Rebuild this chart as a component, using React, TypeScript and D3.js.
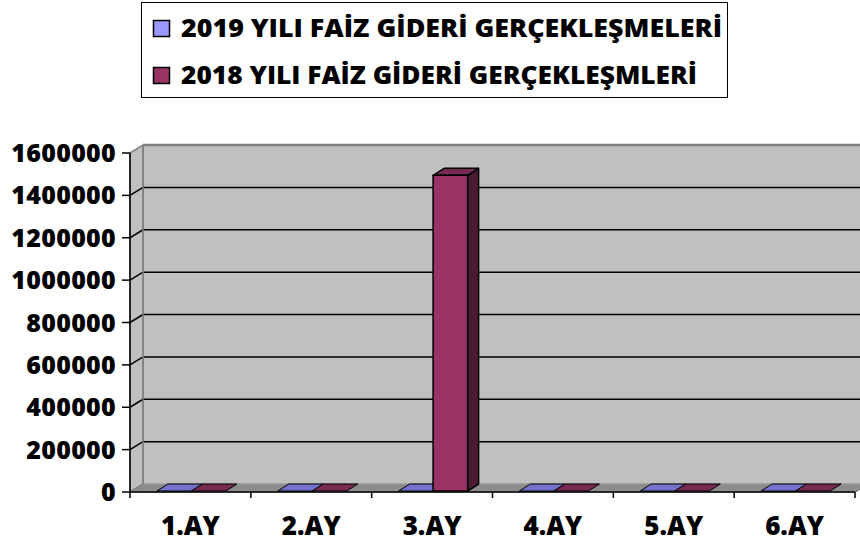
import React from "react";
import * as d3 from "d3";

const categories = ["1.AY", "2.AY", "3.AY", "4.AY", "5.AY", "6.AY"];
const seriesNames = ["2019 YILI FAİZ GİDERİ GERÇEKLEŞMELERİ", "2018 YILI FAİZ GİDERİ GERÇEKLEŞMLERİ"];
const values2019 = [0, 0, 0, 0, 0, 0];
const values2018 = [0, 0, 1490000, 0, 0, 0];
const yTicks = [0, 200000, 400000, 600000, 800000, 1000000, 1200000, 1400000, 1600000];

const seriesValues = [values2019, values2018];
const frontColors = ["#9999ff", "#993366"];
const sideColors = ["#4d4d80", "#4d1a33"];
const topColors = ["#7373cc", "#782a54"];

const W = 860, H = 544;
const X0 = 130, X1 = 855, Y0 = 492, Y1 = 153;
const DX = 13, DY = -8; // wall depth
const BF = { dx: 1, dy: -1 }; // bar front offset
const BB = { dx: 12, dy: -8 }; // bar back offset
const FONT = "'Open Sans', sans-serif";
const WEIGHT = 800;

export default function App() {
  const x = d3.scaleBand<string>().domain(categories).range([X0, X1]).padding(0);
  const xs = d3.scaleBand<string>().domain(seriesNames).range([0, x.step()]).paddingInner(0).paddingOuter(0.75);
  const y = d3.scaleLinear().domain([0, 1600000]).range([Y0, Y1]);
  const bw = xs.bandwidth();

  const pts = (a: number[][]) => a.map((p) => p.join(",")).join(" ");

  const bars: React.ReactNode[] = [];
  categories.forEach((c, ci) => {
    seriesNames.forEach((s, si) => {
      const v = seriesValues[si][ci];
      const xl = (x(c) as number) + (xs(s) as number) + BF.dx;
      const xr = xl + bw;
      const yb = y(0) + BF.dy;
      const yt = y(v) + BF.dy;
      const ddx = BB.dx - BF.dx, ddy = BB.dy - BF.dy;
      const key = `${ci}-${si}`;
      if (yb - yt > 0.5) {
        bars.push(
          <g key={key} stroke="#000" strokeWidth={1.5} strokeLinejoin="round">
            <polygon points={pts([[xr, yt], [xr + ddx, yt + ddy], [xr + ddx, yb + ddy], [xr, yb]])} fill={sideColors[si]} />
            <polygon points={pts([[xl, yt], [xl + ddx, yt + ddy], [xr + ddx, yt + ddy], [xr, yt]])} fill={topColors[si]} />
            <rect x={xl} y={yt} width={bw} height={yb - yt} fill={frontColors[si]} />
          </g>
        );
      } else {
        bars.push(
          <polygon key={key} points={pts([[xl, yt], [xl + ddx, yt + ddy], [xr + ddx, yt + ddy], [xr, yt]])}
            fill={topColors[si]} stroke="#000" strokeWidth={1} strokeLinejoin="round" />
        );
      }
    });
  });

  return (
    <svg width={W} height={H} style={{ position: "absolute", left: 0, top: 0 }}>
      <rect x={0} y={0} width={W} height={H} fill="#fff" />
      {/* legend */}
      <rect x={141.5} y={2.5} width={586} height={95} fill="#fff" stroke="#000" strokeWidth={1} />
      {seriesNames.map((s, i) => (
        <g key={s}>
          <rect x={153.5} y={20.5 + i * 47} width={16} height={16} fill={frontColors[i]} stroke="#000" strokeWidth={1.5} />
          <text x={181} y={37 + i * 47} fontFamily={FONT} fontWeight={WEIGHT} fontSize={24} fill="#000"
            textLength={i === 0 ? 541 : 516} lengthAdjust="spacingAndGlyphs">{s}</text>
        </g>
      ))}
      {/* walls */}
      <polygon points={pts([[X0 + DX, y(1600000) + DY], [W + 20, y(1600000) + DY], [W + 20, y(0) + DY], [X0 + DX, y(0) + DY]])} fill="#c0c0c0" />
      <polygon points={pts([[X0, y(1600000)], [X0 + DX, y(1600000) + DY], [X0 + DX, y(0) + DY], [X0, y(0)]])} fill="#c0c0c0" stroke="#808080" strokeWidth={1.5} />
      <line x1={X0 + DX} x2={W} y1={y(1600000) + DY} y2={y(1600000) + DY} stroke="#808080" strokeWidth={2.5} />
      {/* gridlines */}
      {yTicks.slice(1, -1).map((t) => (
        <g key={t} stroke="#000" strokeWidth={1.5}>
          <line x1={X0} y1={y(t)} x2={X0 + DX} y2={y(t) + DY} />
          <line x1={X0 + DX} y1={y(t) + DY} x2={W} y2={y(t) + DY} />
        </g>
      ))}
      {/* floor */}
      <polygon points={pts([[X0, y(0)], [X0 + DX, y(0) + DY], [X1 + DX, y(0) + DY], [X1, y(0)]])} fill="#8c8c8c" stroke="#808080" strokeWidth={1} />
      <line x1={X0 + DX} x2={W} y1={y(0) + DY} y2={y(0) + DY} stroke="#a0a0a0" strokeWidth={1} />
      <line x1={X0 + DX} x2={X0 + DX} y1={y(1600000) + DY} y2={y(0) + DY} stroke="#808080" strokeWidth={1.5} />
      {/* bars */}
      {bars}
      {/* axes */}
      <line x1={X0} x2={X0} y1={y(1600000)} y2={y(0)} stroke="#000" strokeWidth={1.5} />
      <line x1={X0} x2={X1} y1={y(0)} y2={y(0)} stroke="#000" strokeWidth={1.5} />
      <line x1={X1} y1={y(0)} x2={X1 + DX} y2={y(0) + DY} stroke="#808080" strokeWidth={1.5} />
      {yTicks.map((t) => (
        <g key={t}>
          <line x1={X0 - 8} x2={X0} y1={y(t)} y2={y(t)} stroke="#000" strokeWidth={1.5} />
          <text x={116} y={y(t)} dy="0.36em" textAnchor="end" fontFamily={FONT} fontWeight={WEIGHT} fontSize={25}
            letterSpacing={0.3} fill="#000">{t}</text>
        </g>
      ))}
      {[...categories.map((c) => x(c) as number), X1].map((tx, i) => (
        <line key={i} x1={tx} x2={tx} y1={y(0)} y2={y(0) + 6} stroke="#000" strokeWidth={1.5} />
      ))}
      {categories.map((c) => (
        <text key={c} x={(x(c) as number) + x.bandwidth() / 2} y={535} textAnchor="middle" fontFamily={FONT}
          fontWeight={WEIGHT} fontSize={26} fill="#000">{c}</text>
      ))}
    </svg>
  );
}
